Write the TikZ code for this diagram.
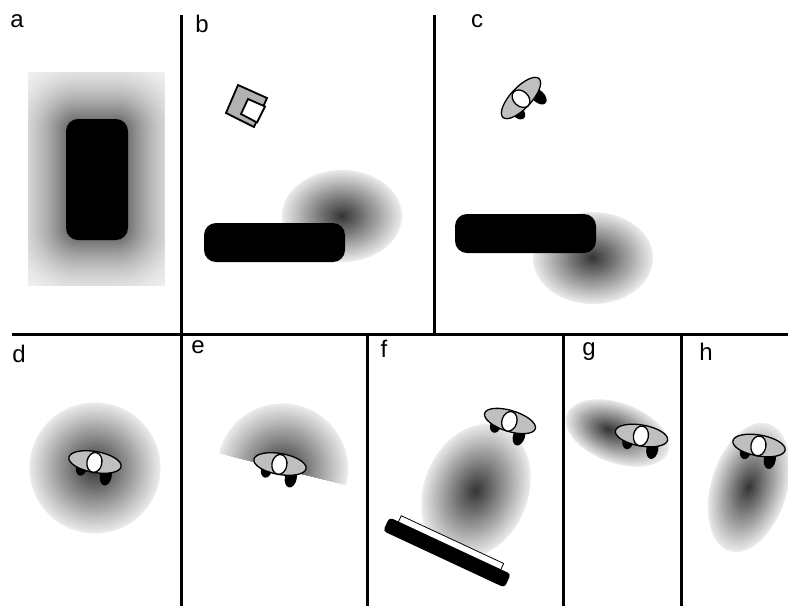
\documentclass[tikz,border=0pt]{standalone}
\usepackage{fontspec}
\setmainfont{Liberation Sans}
\tikzset{
  divider/.style={line width=3pt,black},
  solidbar/.style={fill=black,draw=none,rounded corners=12pt},
  panellabel/.style={inner sep=0pt,anchor=center,font=\fontsize{24}{24}\selectfont},
  bodyshape/.style={fill=black!25,draw=black,line width=1.3pt},
  headshape/.style={fill=white,draw=black,line width=1.3pt},
}
% radial glow as nested ellipses: x, y, rx, ry, clockwise turn, core offset x, y
\newcommand{\glowoff}[7]{%
  \begin{scope}[shift={(#1,#2)},rotate=-#5]
    \foreach \i in {60,59,...,1}{%
      \pgfmathsetmacro{\gv}{0.20+0.72*\i/60}%
      \pgfmathsetmacro{\rxv}{#3*\i/60}%
      \pgfmathsetmacro{\ryv}{#4*\i/60}%
      \pgfmathsetmacro{\cxv}{#6*(1-\i/60)}%
      \pgfmathsetmacro{\cyv}{#7*(1-\i/60)}%
      \fill[color={rgb,1:red,\gv;green,\gv;blue,\gv}] (\cxv,\cyv) ellipse ({\rxv pt} and {\ryv pt});
    }
  \end{scope}}
\newcommand{\glowat}[5]{\glowoff{#1}{#2}{#3}{#4}{#5}{0}{0}}
% walker seen from above: x, y, clockwise turn
\newcommand{\walker}[3]{%
  \begin{scope}[shift={(#1,#2)},rotate=-#3]
    \fill[black] (-12.5,8) ellipse (5.5pt and 8pt);
    \fill[black] (13,11.5) ellipse (6pt and 10pt);
    \draw[bodyshape] (0,0) ellipse (26.5pt and 10.5pt);
    \draw[headshape] (-0.5,0.5) ellipse (7.5pt and 10pt);
  \end{scope}}
\begin{document}
\begin{tikzpicture}[x=1pt,y=-1pt]
\path[use as bounding box,clip] (0,0) rectangle (788,606);
\fill[white] (0,0) rectangle (788,606);

% panel a
\begin{scope}
  \clip (28.5,72.5) rectangle (164,285);
  \foreach \d in {80,79,...,0}{%
    \pgfmathsetmacro{\gv}{min(0.94,0.45+0.0135*\d-0.000085*\d*\d)}%
    \fill[color={rgb,1:red,\gv;green,\gv;blue,\gv},rounded corners={(12+\d)*1pt}]
      (66-\d,119-\d) rectangle (128+\d,240+\d);
  }
\end{scope}
\path[solidbar,fill=black] (66,119) rectangle (128,240);

% panel b
\glowat{342}{216}{60}{46}{0}
\path[solidbar,fill=black] (204,223) rectangle (345,262);
\draw[fill=black!30,line width=1.8pt,line join=miter] (238,85) -- (267,98) -- (254,127) -- (226,113) -- cycle;
\draw[fill=white,line width=1.8pt] (248,99) -- (265,106.5) -- (257,122.5) -- (241,114) -- cycle;

% panel c
\glowat{593}{258}{60}{46}{0}
\path[solidbar,fill=black] (455,214) rectangle (596,253);
\walker{521}{98}{-47}

% panel d
\glowat{95}{468}{65.5}{65.5}{0}
\walker{95}{462}{10}

% panel e
\begin{scope}[shift={(282.5,469)},rotate=-14.1]
  \clip (-80,-80) rectangle (80,0);
  \glowat{0}{0}{65.5}{65.5}{0}
\end{scope}
\walker{280}{464}{10}

% panel f
\glowat{476}{491}{52}{69}{22}
\begin{scope}[shift={(447,552.5)},rotate=-25]
  \draw[fill=white,line width=0.8pt] (-57,-14) rectangle (56,0);
  \fill[black,rounded corners=3.5pt] (-67,-7.5) rectangle (67,7.5);
\end{scope}
\walker{510}{421}{17}

% panel g
\glowoff{617.5}{433}{54}{30}{20}{-10}{0}
\walker{641.5}{435.5}{10}

% panel h
\glowat{749}{487.5}{38}{66.5}{17}
\walker{759}{445.5}{10}

% dividers
\draw[divider] (181,15) -- (181,606);
\draw[divider] (434.5,15) -- (434.5,334.5);
\draw[divider] (12,334.5) -- (788,334.5);
\draw[divider] (367.5,334.5) -- (367.5,606);
\draw[divider] (563.5,334.5) -- (563.5,606);
\draw[divider] (681.5,334.5) -- (681.5,606);

% labels
\node[panellabel] (la) at (17,21) {a};
\node[panellabel] (lb) at (202,24) {b};
\node[panellabel] (lc) at (477,21) {c};
\node[panellabel] (ld) at (19,354) {d};
\node[panellabel] (le) at (198,347) {e};
\node[panellabel] (lf) at (384,349) {f};
\node[panellabel] (lg) at (589,352) {g};
\node[panellabel] (lh) at (706,352) {h};
\end{tikzpicture}
\end{document}
